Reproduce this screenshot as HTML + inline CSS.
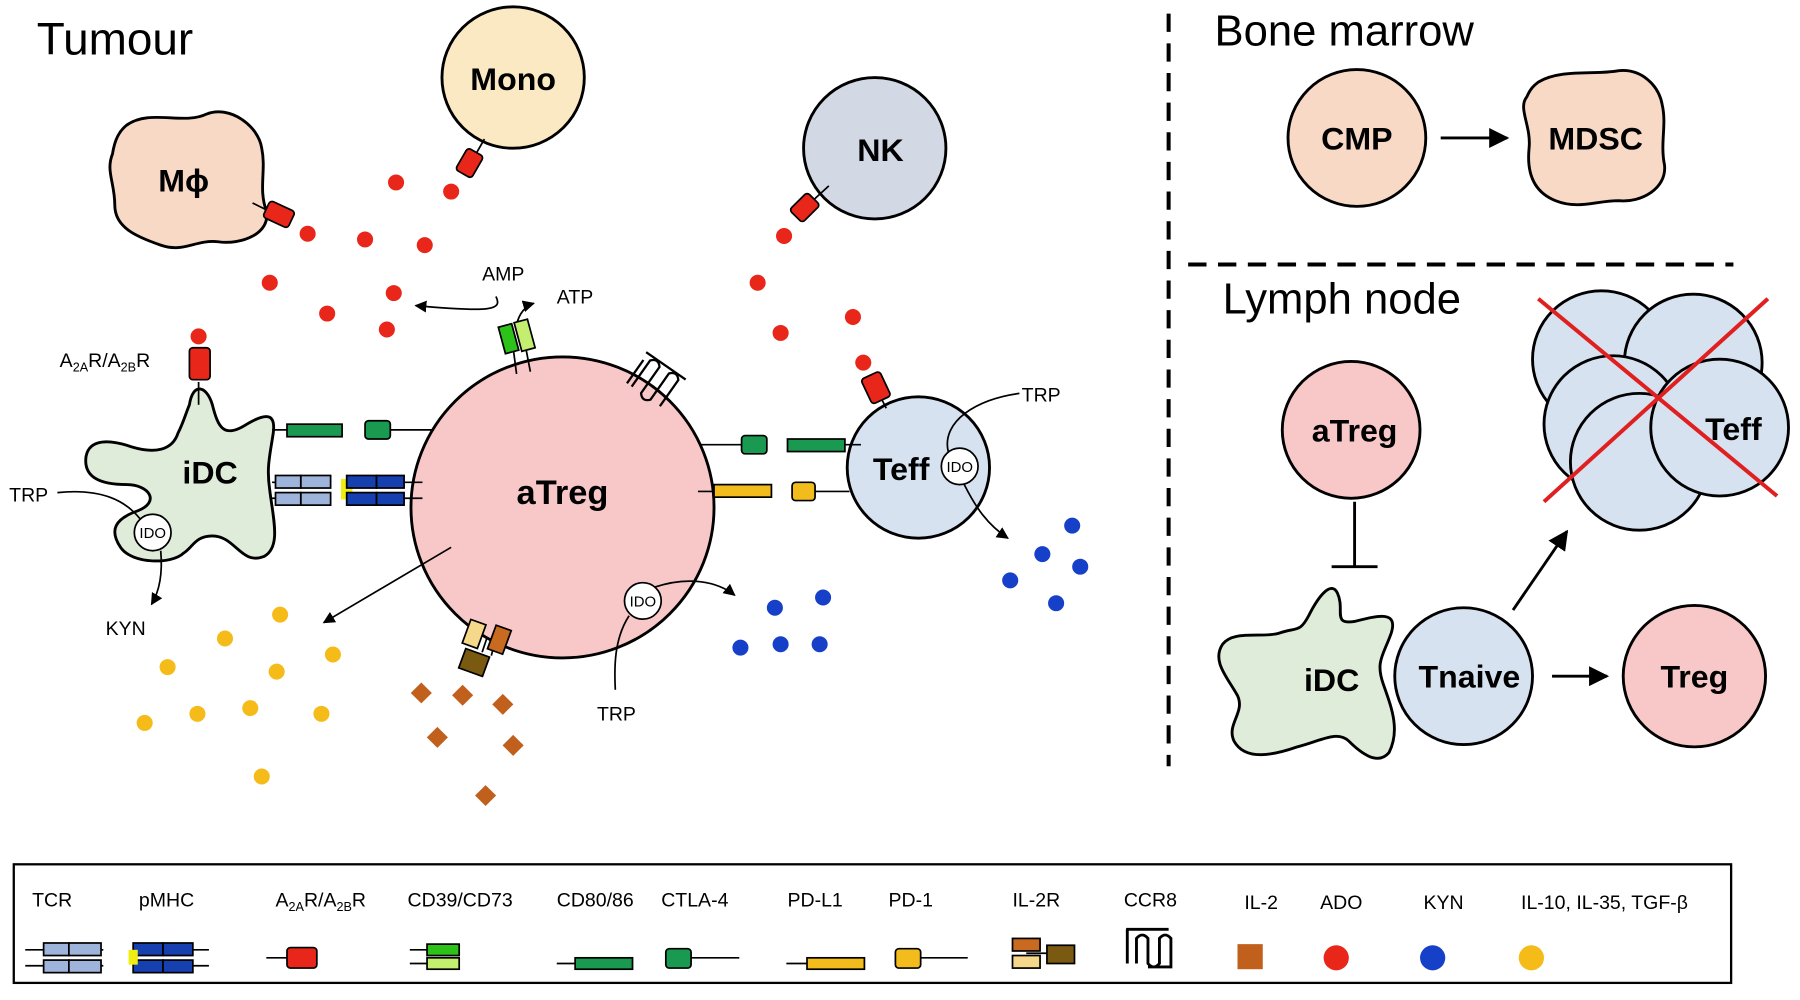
<!DOCTYPE html>
<html><head><meta charset="utf-8"><style>
html,body{margin:0;padding:0;background:#fff;}
svg{display:block;}
text{font-family:"Liberation Sans",sans-serif;}
</style></head><body>
<svg width="1800" height="1000" viewBox="0 0 1568 877" preserveAspectRatio="none" xmlns="http://www.w3.org/2000/svg">
<defs>
<marker id="ar" viewBox="0 0 10 10" refX="9" refY="5" markerWidth="7" markerHeight="7" orient="auto"><path d="M0,0L10,5L0,10z" fill="#000"/></marker>
</defs>
<rect width="1568" height="877" fill="#fff"/>
<line x1="1018" y1="12" x2="1018" y2="672" stroke="#000" stroke-width="3.5" stroke-dasharray="16,10"/>
<line x1="1035" y1="232" x2="1510" y2="232" stroke="#000" stroke-width="3.5" stroke-dasharray="16,10"/>
<text x="32" y="48" font-size="40">Tumour</text>
<text x="1058" y="40" font-size="38">Bone marrow</text>
<text x="1065" y="275" font-size="38">Lymph node</text>

<circle cx="1182" cy="121" r="60" fill="#f8d9c6" stroke="#000" stroke-width="2.5"/>
<text x="1182" y="131" font-size="28" font-weight="bold" text-anchor="middle">CMP</text>
<line x1="1255" y1="121" x2="1313" y2="121" stroke="#000" stroke-width="2.5" marker-end="url(#ar)"/>
<path d="M1340,72 C1360,60 1390,66 1410,62 C1430,60 1445,75 1448,92 C1452,110 1446,125 1450,145 C1452,165 1430,178 1410,176 C1390,176 1375,184 1355,176 C1335,168 1330,150 1332,130 C1334,110 1322,95 1330,85 C1333,78 1336,75 1340,72Z" fill="#f8d9c6" stroke="#000" stroke-width="2.5"/>
<text x="1390" y="131" font-size="28" font-weight="bold" text-anchor="middle">MDSC</text>

<circle cx="1177" cy="377" r="60" fill="#f8c8c8" stroke="#000" stroke-width="2.5"/>
<text x="1180" y="387" font-size="28" font-weight="bold" text-anchor="middle">aTreg</text>
<line x1="1180" y1="440" x2="1180" y2="496" stroke="#000" stroke-width="2.5"/>
<line x1="1160" y1="497" x2="1200" y2="497" stroke="#000" stroke-width="2.5"/>
<path d="M1140,540 C1150,520 1160,510 1165,520 C1172,535 1160,548 1180,545 C1200,540 1218,535 1212,555 C1205,575 1198,580 1205,600 C1212,620 1220,640 1210,660 C1200,672 1185,660 1175,650 C1165,640 1150,650 1130,655 C1110,662 1085,668 1075,650 C1068,635 1085,625 1078,610 C1070,595 1055,580 1065,565 C1075,552 1100,560 1115,555 C1130,550 1132,555 1140,540Z" fill="#dfecd9" stroke="#000" stroke-width="2.5"/>
<text x="1160" y="606" font-size="28" font-weight="bold" text-anchor="middle">iDC</text>
<circle cx="1275" cy="593" r="60" fill="#d6e2f0" stroke="#000" stroke-width="2.5"/>
<text x="1280" y="603" font-size="28" font-weight="bold" text-anchor="middle">Tnaive</text>
<line x1="1352" y1="593" x2="1400" y2="593" stroke="#000" stroke-width="2.5" marker-end="url(#ar)"/>
<circle cx="1476" cy="593" r="62" fill="#f8c8c8" stroke="#000" stroke-width="2.5"/>
<text x="1476" y="603" font-size="28" font-weight="bold" text-anchor="middle">Treg</text>
<line x1="1318" y1="535" x2="1365" y2="466" stroke="#000" stroke-width="2.5" marker-end="url(#ar)"/>
<g fill="#d6e2f0" stroke="#000" stroke-width="2.5">
<circle cx="1395" cy="315" r="60"/>
<circle cx="1475" cy="318" r="60"/>
<circle cx="1405" cy="372" r="60"/>
<circle cx="1428" cy="405" r="60"/>
<circle cx="1498" cy="375" r="60"/>
</g>
<text x="1510" y="386" font-size="28" font-weight="bold" text-anchor="middle">Teff</text>
<line x1="1340" y1="262" x2="1548" y2="435" stroke="#e02020" stroke-width="3.5"/>
<line x1="1540" y1="262" x2="1345" y2="440" stroke="#e02020" stroke-width="3.5"/>

<circle cx="447" cy="68" r="62" fill="#fbe9c3" stroke="#000" stroke-width="2.5"/>
<text x="447" y="79" font-size="28" font-weight="bold" text-anchor="middle">Mono</text>
<path d="M110,110 C130,95 160,110 180,100 C200,92 225,110 228,130 C232,150 225,165 232,185 C236,205 210,215 190,212 C170,210 160,222 140,215 C120,208 100,200 100,180 C100,160 92,150 98,135 C100,122 104,115 110,110Z" fill="#f8d9c6" stroke="#000" stroke-width="2.5"/>
<text x="160" y="168" font-size="28" font-weight="bold" text-anchor="middle">Mϕ</text>
<circle cx="762" cy="130" r="62" fill="#d2d8e4" stroke="#000" stroke-width="2.5"/>
<text x="767" y="141" font-size="28" font-weight="bold" text-anchor="middle">NK</text>
<circle cx="490" cy="445" r="132" fill="#f8c8c8" stroke="#000" stroke-width="2.5"/>
<text x="490" y="442" font-size="30" font-weight="bold" text-anchor="middle">aTreg</text>
<circle cx="800" cy="410" r="62" fill="#d6e2f0" stroke="#000" stroke-width="2.5"/>
<text x="785" y="421" font-size="28" font-weight="bold" text-anchor="middle">Teff</text>
<circle cx="836" cy="409" r="16" fill="#fff" stroke="#000" stroke-width="1.5"/>
<text x="836" y="414" font-size="13" text-anchor="middle">IDO</text>
<path d="M165,355 C168,335 180,338 185,355 C190,375 195,385 215,372 C235,360 240,365 238,380 C235,400 232,410 235,430 C238,455 245,480 230,488 C210,496 205,470 185,470 C170,470 168,480 160,485 C150,495 115,495 105,480 C95,465 100,455 120,448 C140,440 130,425 110,425 C90,425 72,420 75,400 C78,385 95,385 115,392 C135,398 150,395 155,380 C160,370 162,362 165,355Z" fill="#dfecd9" stroke="#000" stroke-width="2.5"/>
<text x="183" y="424" font-size="28" font-weight="bold" text-anchor="middle">iDC</text>
<circle cx="133" cy="467" r="16" fill="#fff" stroke="#000" stroke-width="1.5"/>
<text x="133" y="472" font-size="13" text-anchor="middle">IDO</text>

<text x="52" y="322" font-size="17">A<tspan font-size="11" dy="4">2A</tspan><tspan dy="-4">R/A</tspan><tspan font-size="11" dy="4">2B</tspan><tspan dy="-4">R</tspan></text>
<text x="8" y="440" font-size="17">TRP</text>
<path d="M50,432 C90,428 110,440 122,455" fill="none" stroke="#000" stroke-width="1.5"/>
<path d="M140,483 C142,505 138,520 132,530" fill="none" stroke="#000" stroke-width="1.5" marker-end="url(#ar)"/>
<text x="92" y="557" font-size="17">KYN</text>
<text x="420" y="246" font-size="17">AMP</text>
<text x="485" y="266" font-size="17">ATP</text>
<path d="M432,260 C438,272 428,274 362,268" fill="none" stroke="#000" stroke-width="1.5" marker-end="url(#ar)"/>
<path d="M450,285 C452,275 458,268 465,266" fill="none" stroke="#000" stroke-width="1.5" marker-end="url(#ar)"/>
<text x="890" y="352" font-size="17">TRP</text>
<path d="M888,345 C850,350 820,370 826,396" fill="none" stroke="#000" stroke-width="1.5"/>
<path d="M840,425 C850,445 860,460 878,472" fill="none" stroke="#000" stroke-width="1.5" marker-end="url(#ar)"/>
<line x1="393" y1="480" x2="282" y2="546" stroke="#000" stroke-width="1.5" marker-end="url(#ar)"/>
<circle cx="560" cy="527" r="16" fill="#fff" stroke="#000" stroke-width="1.5"/>
<text x="560" y="532" font-size="13" text-anchor="middle">IDO</text>
<path d="M570,515 C600,505 625,510 640,522" fill="none" stroke="#000" stroke-width="1.5" marker-end="url(#ar)"/>
<path d="M548,540 C535,560 535,585 536,605" fill="none" stroke="#000" stroke-width="1.5"/>
<text x="520" y="632" font-size="17">TRP</text>

<g stroke="#000" stroke-width="1.5">
<line x1="220" y1="178" x2="236" y2="186"/>
<rect x="231" y="180" width="24" height="16" rx="3" fill="#e8261a" transform="rotate(25 243 188)"/>
<line x1="422" y1="122" x2="414" y2="136"/>
<rect x="398" y="135" width="22" height="16" rx="3" fill="#e8261a" transform="rotate(-60 409 143)"/>
<line x1="722" y1="163" x2="708" y2="176"/>
<rect x="690" y="174" width="22" height="16" rx="3" fill="#e8261a" transform="rotate(-45 701 182)"/>
<line x1="173" y1="335" x2="173" y2="355"/>
<rect x="165" y="305" width="18" height="28" rx="3" fill="#e8261a"/>
<line x1="768" y1="350" x2="772" y2="358"/>
<rect x="754" y="328" width="18" height="24" rx="3" fill="#e8261a" transform="rotate(-25 763 340)"/>
<line x1="237" y1="377" x2="250" y2="377"/>
<rect x="250" y="372" width="48" height="11" fill="#1a9a50"/>
<line x1="340" y1="377" x2="378" y2="377"/>
<rect x="318" y="369" width="22" height="16" rx="3" fill="#1a9a50"/>
<line x1="237" y1="423" x2="262" y2="423"/><line x1="237" y1="437" x2="262" y2="437"/>
<rect x="262" y="417" width="26" height="11" fill="#9fb4da"/><rect x="262" y="432" width="26" height="11" fill="#9fb4da"/>
<rect x="240" y="417" width="22" height="11" fill="#9fb4da"/><rect x="240" y="432" width="22" height="11" fill="#9fb4da"/>
<rect x="297" y="420" width="10" height="18" fill="#f0ee10" stroke="none"/>
<line x1="350" y1="423" x2="368" y2="423"/><line x1="350" y1="437" x2="368" y2="437"/>
<rect x="302" y="417" width="26" height="11" fill="#1640b0"/><rect x="328" y="417" width="24" height="11" fill="#1640b0"/>
<rect x="302" y="432" width="26" height="11" fill="#1640b0"/><rect x="328" y="432" width="24" height="11" fill="#1640b0"/>
<line x1="610" y1="390" x2="646" y2="390"/>
<rect x="646" y="382" width="22" height="16" rx="3" fill="#1a9a50"/>
<rect x="686" y="385" width="50" height="11" fill="#1a9a50"/>
<line x1="736" y1="390" x2="750" y2="390"/>
<line x1="608" y1="431" x2="622" y2="431"/>
<rect x="622" y="425" width="50" height="11" fill="#f2bd1c"/>
<rect x="690" y="423" width="20" height="16" rx="3" fill="#f2bd1c"/>
<line x1="710" y1="431" x2="740" y2="431"/>
<line x1="447" y1="305" x2="450" y2="328"/><line x1="458" y1="305" x2="462" y2="326"/>
<rect x="437" y="285" width="12" height="24" fill="#2dc21a" transform="rotate(-15 443 297)"/>
<rect x="451" y="281" width="12" height="26" fill="#c4ee70" transform="rotate(-15 457 294)"/>
<line x1="420" y1="572" x2="424" y2="560"/><line x1="428" y1="575" x2="431" y2="563"/>
<rect x="406" y="545" width="14" height="22" fill="#f5d88a" transform="rotate(20 413 556)"/>
<rect x="428" y="550" width="14" height="22" fill="#c86a20" transform="rotate(20 435 561)"/>
<rect x="402" y="572" width="22" height="18" fill="#7a5a10" transform="rotate(20 413 581)"/>
</g>
<g fill="none" stroke="#000" stroke-width="2" transform="rotate(35 570 337)">
<path d="M550,325 L550,350 M555,350 L555,322 Q560,316 565,322 L565,350 Q570,356 575,350 L575,322 Q580,316 585,322 L585,350 M548,318 L590,318"/>
</g>

<g fill="#e8261a">
<circle cx="345" cy="160" r="7"/><circle cx="393" cy="168" r="7"/><circle cx="370" cy="215" r="7"/>
<circle cx="318" cy="210" r="7"/><circle cx="268" cy="205" r="7"/><circle cx="235" cy="248" r="7"/>
<circle cx="285" cy="275" r="7"/><circle cx="343" cy="257" r="7"/><circle cx="337" cy="289" r="7"/>
<circle cx="173" cy="295" r="7"/><circle cx="683" cy="207" r="7"/><circle cx="660" cy="248" r="7"/>
<circle cx="680" cy="292" r="7"/><circle cx="743" cy="278" r="7"/><circle cx="752" cy="318" r="7"/>
</g>
<g fill="#1640c8">
<circle cx="645" cy="568" r="7"/><circle cx="675" cy="533" r="7"/><circle cx="717" cy="524" r="7"/>
<circle cx="680" cy="565" r="7"/><circle cx="714" cy="565" r="7"/>
<circle cx="934" cy="461" r="7"/><circle cx="908" cy="486" r="7"/><circle cx="941" cy="497" r="7"/>
<circle cx="880" cy="509" r="7"/><circle cx="920" cy="529" r="7"/>
</g>
<g fill="#f5bb18">
<circle cx="244" cy="539" r="7"/><circle cx="196" cy="560" r="7"/><circle cx="146" cy="585" r="7"/>
<circle cx="241" cy="589" r="7"/><circle cx="290" cy="574" r="7"/><circle cx="126" cy="634" r="7"/>
<circle cx="172" cy="626" r="7"/><circle cx="218" cy="621" r="7"/><circle cx="280" cy="626" r="7"/>
<circle cx="228" cy="681" r="7"/>
</g>
<g fill="#c0601c">
<rect x="361" y="601" width="13" height="13" transform="rotate(45 367 607)"/>
<rect x="397" y="603" width="13" height="13" transform="rotate(45 403 609)"/>
<rect x="432" y="611" width="13" height="13" transform="rotate(45 438 617)"/>
<rect x="375" y="640" width="13" height="13" transform="rotate(45 381 646)"/>
<rect x="441" y="647" width="13" height="13" transform="rotate(45 447 653)"/>
<rect x="417" y="691" width="13" height="13" transform="rotate(45 423 697)"/>
</g>

<rect x="12" y="758" width="1496" height="104" fill="none" stroke="#000" stroke-width="2"/>
<g font-size="17">
<text x="28" y="795">TCR</text>
<text x="121" y="795">pMHC</text>
<text x="240" y="795">A<tspan font-size="11" dy="4">2A</tspan><tspan dy="-4">R/A</tspan><tspan font-size="11" dy="4">2B</tspan><tspan dy="-4">R</tspan></text>
<text x="355" y="795">CD39/CD73</text>
<text x="485" y="795">CD80/86</text>
<text x="576" y="795">CTLA-4</text>
<text x="686" y="795">PD-L1</text>
<text x="774" y="795">PD-1</text>
<text x="882" y="795">IL-2R</text>
<text x="979" y="795">CCR8</text>
<text x="1084" y="797">IL-2</text>
<text x="1150" y="797">ADO</text>
<text x="1240" y="797">KYN</text>
<text x="1325" y="797">IL-10, IL-35, TGF-β</text>
</g>
<g stroke="#000" stroke-width="1.5">
<line x1="22" y1="833" x2="90" y2="833"/><line x1="22" y1="847" x2="90" y2="847"/>
<rect x="38" y="827" width="22" height="11" fill="#9fb4da"/><rect x="60" y="827" width="28" height="11" fill="#9fb4da"/>
<rect x="38" y="842" width="22" height="11" fill="#9fb4da"/><rect x="60" y="842" width="28" height="11" fill="#9fb4da"/>
<rect x="116" y="827" width="26" height="11" fill="#1640b0"/><rect x="142" y="827" width="26" height="11" fill="#1640b0"/>
<rect x="116" y="842" width="26" height="11" fill="#1640b0"/><rect x="142" y="842" width="26" height="11" fill="#1640b0"/>
<line x1="168" y1="833" x2="182" y2="833"/><line x1="168" y1="847" x2="182" y2="847"/>
<rect x="112" y="833" width="8" height="13" fill="#f0ee10" stroke="none"/>
<line x1="232" y1="840" x2="250" y2="840"/>
<rect x="250" y="831" width="26" height="18" rx="3" fill="#e8261a"/>
<line x1="357" y1="833" x2="372" y2="833"/><line x1="357" y1="845" x2="372" y2="845"/>
<rect x="372" y="828" width="28" height="10" fill="#2dc21a"/><rect x="372" y="840" width="28" height="10" fill="#c4ee70"/>
<line x1="485" y1="845" x2="501" y2="845"/>
<rect x="501" y="840" width="50" height="10" fill="#1a9a50"/>
<rect x="580" y="832" width="22" height="17" rx="3" fill="#1a9a50"/>
<line x1="602" y1="840" x2="644" y2="840"/>
<line x1="685" y1="845" x2="703" y2="845"/>
<rect x="703" y="840" width="50" height="10" fill="#f2bd1c"/>
<rect x="780" y="832" width="22" height="17" rx="3" fill="#f2bd1c"/>
<line x1="802" y1="840" x2="843" y2="840"/>
<rect x="882" y="823" width="24" height="11" fill="#c86a20"/>
<rect x="882" y="838" width="24" height="11" fill="#f5d88a"/>
<line x1="894" y1="836" x2="912" y2="836"/>
<rect x="912" y="829" width="24" height="16" fill="#7a5a10"/>
</g>
<path d="M981,815 L1018,815 M982,815 L982,845 M990,845 L990,823 Q995,817 1000,823 L1000,845 Q1005,851 1010,845 L1010,823 Q1015,817 1020,823 L1020,848 L1000,848" fill="none" stroke="#000" stroke-width="2.5"/>
<rect x="1078" y="828" width="22" height="22" fill="#c0601c"/>
<ellipse cx="1164" cy="840" rx="11" ry="11" fill="#e8261a"/>
<ellipse cx="1248" cy="840" rx="11" ry="11" fill="#1640c8"/>
<ellipse cx="1334" cy="840" rx="11" ry="11" fill="#f5bb18"/>
</svg>
</body></html>
